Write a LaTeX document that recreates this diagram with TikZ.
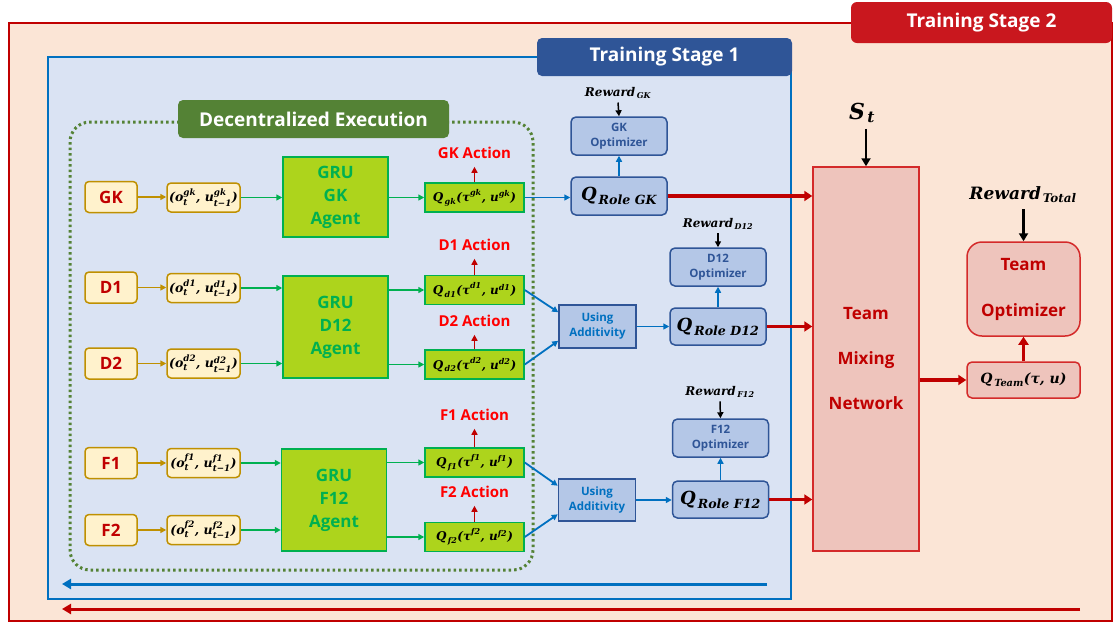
\documentclass[tikz,border=0pt]{standalone}
\usepackage{amsmath}
\usepackage[no-math]{fontspec}
\newfontfamily\lbl{Open Sans}
\newfontfamily\mtf{DejaVu Serif}
\newcommand\bt[1]{\text{\mtf\bfseries\itshape #1}}
\usetikzlibrary{arrows.meta}
\definecolor{peach}{HTML}{FBE5D6}
\definecolor{dred}{HTML}{C00000}
\definecolor{lbred}{HTML}{C9171E}
\definecolor{lblue}{HTML}{DAE3F3}
\definecolor{mblue}{HTML}{0070C0}
\definecolor{nblue}{HTML}{2F5597}
\definecolor{bfill}{HTML}{B4C7E7}
\definecolor{dgreen}{HTML}{548235}
\definecolor{cream}{HTML}{FFF2CC}
\definecolor{gold}{HTML}{BF9000}
\definecolor{lime}{HTML}{ADD41C}
\definecolor{ggreen}{HTML}{00B050}
\definecolor{pinkf}{HTML}{EEC4BC}
\definecolor{mred}{HTML}{D42A2A}
\definecolor{actred}{HTML}{FF0000}
\tikzset{
  lblfont/.style={font={\lbl\bfseries\fontsize{#1}{#1}\selectfont}},
  mathfont/.style={font={\fontsize{#1}{#1}\selectfont}},
  agentbox/.style={draw=gold, fill=cream, line width=1.5pt, rounded corners=4pt, minimum width=52pt, minimum height=31pt, inner sep=0pt, text=dred, lblfont=17},
  obsbox/.style={draw=gold, fill=cream, line width=1.5pt, rounded corners=4pt, minimum width=73pt, minimum height=29pt, inner sep=0pt, mathfont=12.5},
  grubox/.style={draw=ggreen, fill=lime, line width=1.5pt, minimum width=105pt, inner sep=0pt, text=ggreen, align=center, font={\lbl\bfseries\fontsize{17}{23}\selectfont}},
  qbox/.style={draw=ggreen, fill=lime, line width=1.5pt, minimum width=99pt, minimum height=29pt, inner sep=0pt, mathfont=12},
  act/.style={text=actred, lblfont=15, inner sep=0pt, outer sep=8pt},
  optbox/.style={draw=nblue, fill=bfill, line width=1.5pt, rounded corners=5pt, minimum width=96pt, minimum height=38pt, inner sep=0pt, text=nblue, align=center, font={\lbl\bfseries\fontsize{11.5}{15}\selectfont}},
  rolebox/.style={draw=nblue, fill=bfill, line width=1.5pt, rounded corners=5pt, minimum width=96pt, minimum height=37pt, inner sep=0pt, mathfont=18},
  uabox/.style={draw=nblue, fill=bfill, line width=1.5pt, minimum width=77pt, minimum height=43pt, inner sep=0pt, text=mblue, align=center, font={\lbl\bfseries\fontsize{11.5}{15}\selectfont}},
  rwd/.style={mathfont=12, inner sep=0pt, outer sep=4pt},
  redbox/.style={draw=mred, fill=pinkf, line width=1.5pt, inner sep=0pt, text=dred, align=center},
  goldarr/.style={draw=gold, line width=1.8pt, -{Triangle[length=6pt,width=6pt]}},
  greenarr/.style={draw=ggreen, line width=1.8pt, -{Triangle[length=6pt,width=6pt]}},
  bluearr/.style={draw=mblue, line width=1.8pt, -{Triangle[length=6pt,width=6pt]}},
  actarr/.style={draw=dred, line width=1.8pt, -{Triangle[length=6pt,width=6pt]}},
  blackarr/.style={draw=black, line width=1.5pt, -{Triangle[length=6pt,width=6pt]}},
  bigblack/.style={draw=black, line width=2.5pt, -{Triangle[length=8pt,width=9pt]}},
  redarr/.style={draw=dred, line width=3.5pt, -{Triangle[length=8pt,width=10pt]}},
  longblue/.style={draw=mblue, line width=3pt, -{Triangle[length=9pt,width=10pt]}},
  longred/.style={draw=dred, line width=3pt, -{Triangle[length=9pt,width=10pt]}},
}
\begin{document}
\begin{tikzpicture}[x=1pt,y=-1pt]
\useasboundingbox (0,0) rectangle (1120,622);
% stage 2
\node[draw=dred, fill=peach, line width=1.5pt, minimum width=1103pt, minimum height=598pt, inner sep=0pt, anchor=north west] (s2) at (8,22) {};
\node[fill=lbred, rounded corners=6pt, minimum width=261pt, minimum height=41pt, inner sep=0pt, text=white, lblfont=19] (s2lbl) at (981.5,22.5) {Training Stage 2};
% stage 1
\node[draw=mblue, fill=lblue, line width=1.5pt, minimum width=743pt, minimum height=542pt, inner sep=0pt, anchor=north west] (s1) at (47,56) {};
\node[fill=nblue, rounded corners=5pt, minimum width=255pt, minimum height=38pt, inner sep=0pt, text=white, lblfont=19] (s1lbl) at (664.5,57) {Training Stage 1};
% decentralized execution
\draw[dgreen, line width=3pt, dash pattern=on 2.5pt off 3pt, rounded corners=20pt] (70,122) rectangle (533,570);
\node[fill=dgreen, rounded corners=5pt, minimum width=271pt, minimum height=38pt, inner sep=0pt, text=white, lblfont=19] (delbl) at (313.5,119) {Decentralized Execution};

% GK row
\node[agentbox] (gk) at (111,197) {GK};
\node[obsbox] (ogk) at (203.5,197.5) {$\bt{(o}_{\bt{t}}^{\bt{gk}}\bt{, u}_{\bt{t−1}}^{\bt{gk}}\bt{)}$};
\node[grubox, minimum height=80pt] (grugk) at (335.5,197) {GRU\\GK\\Agent};
\node[qbox] (qgk) at (474.5,197.5) {$\bt{Q}_{\,\bt{gk}}\bt{(τ}^{\bt{gk}}\bt{, u}^{\bt{gk}}\bt{)}$};
\node[act] (agk) at (474.5,153) {GK Action};
% D rows
\node[agentbox] (d1) at (111,287.5) {D1};
\node[agentbox] (d2) at (111,363.5) {D2};
\node[obsbox] (od1) at (203.5,288) {$\bt{(o}_{\bt{t}}^{\bt{d1}}\bt{, u}_{\bt{t−1}}^{\bt{d1}}\bt{)}$};
\node[obsbox] (od2) at (203.5,363.5) {$\bt{(o}_{\bt{t}}^{\bt{d2}}\bt{, u}_{\bt{t−1}}^{\bt{d2}}\bt{)}$};
\node[grubox, minimum height=102pt] (grud) at (335.5,327) {GRU\\D12\\Agent};
\node[qbox] (qd1) at (474.5,290) {$\bt{Q}_{\,\bt{d1}}\bt{(τ}^{\bt{d1}}\bt{, u}^{\bt{d1}}\bt{)}$};
\node[qbox] (qd2) at (474.5,364.5) {$\bt{Q}_{\,\bt{d2}}\bt{(τ}^{\bt{d2}}\bt{, u}^{\bt{d2}}\bt{)}$};
\node[act] (ad1) at (474.5,245) {D1 Action};
\node[act] (ad2) at (474.5,321) {D2 Action};
% F rows
\node[agentbox] (f1) at (111,463) {F1};
\node[agentbox] (f2) at (111,530) {F2};
\node[obsbox] (of1) at (203.5,463) {$\bt{(o}_{\bt{t}}^{\bt{f1}}\bt{, u}_{\bt{t−1}}^{\bt{f1}}\bt{)}$};
\node[obsbox] (of2) at (203.5,530) {$\bt{(o}_{\bt{t}}^{\bt{f2}}\bt{, u}_{\bt{t−1}}^{\bt{f2}}\bt{)}$};
\node[grubox, minimum height=102pt] (gruf) at (334,500) {GRU\\F12\\Agent};
\node[qbox] (qf1) at (474.5,462.5) {$\bt{Q}_{\,\bt{f1}}\bt{(τ}^{\bt{f1}}\bt{, u}^{\bt{f1}}\bt{)}$};
\node[qbox] (qf2) at (474.5,537) {$\bt{Q}_{\,\bt{f2}}\bt{(τ}^{\bt{f2}}\bt{, u}^{\bt{f2}}\bt{)}$};
\node[act] (af1) at (474.5,415) {F1 Action};
\node[act] (af2) at (474.5,492) {F2 Action};

% blue section
\node[optbox] (optgk) at (619,136) {GK\\Optimizer};
\node[rolebox, minimum height=38pt] (rolegk) at (619,196) {$\bt{Q}_{\,\bt{Role GK}}$};
\node[rwd] (rgk) at (618,93) {$\bt{Reward}_{\,\bt{GK}}$};
\node[optbox] (optd12) at (718,267) {D12\\Optimizer};
\node[rolebox] (roled12) at (718,326.5) {$\bt{Q}_{\,\bt{Role D12}}$};
\node[uabox] (ua1) at (597.5,326.5) {Using\\Additivity};
\node[rwd] (rd12) at (718,224) {$\bt{Reward}_{\,\bt{D12}}$};
\node[optbox] (optf12) at (720.5,438) {F12\\Optimizer};
\node[rolebox] (rolef12) at (720.5,499.5) {$\bt{Q}_{\,\bt{Role F12}}$};
\node[uabox, minimum height=42pt] (ua2) at (597,500) {Using\\Additivity};
\node[rwd] (rf12) at (720,392) {$\bt{Reward}_{\,\bt{F12}}$};

% stage 2 parts
\node[redbox, minimum width=106pt, minimum height=384pt, font={\lbl\bfseries\fontsize{17}{45}\selectfont}] (mix) at (866,359) {Team\\Mixing\\Network};
\node[mathfont=22, inner sep=0pt, outer sep=6pt] (st) at (862,113) {$\bt{S}_{\,\bt{t}}$};
\node[mathfont=17, inner sep=0pt, outer sep=6pt] (rtot) at (1023,195) {$\bt{Reward}_{\,\bt{Total}}$};
\node[redbox, rounded corners=15pt, minimum width=113pt, minimum height=94pt, font={\lbl\bfseries\fontsize{17}{46}\selectfont}] (topt) at (1023.5,289) {Team\\Optimizer};
\node[redbox, rounded corners=5pt, minimum width=113pt, minimum height=36pt, text=black, mathfont=14] (qteam) at (1023.5,380) {$\bt{Q}_{\,\bt{Team}}\bt{(τ, u)}$};

% arrows: inputs
\foreach \a/\o in {gk/ogk,d1/od1,d2/od2,f1/of1,f2/of2}{
  \draw[goldarr] (\a.east) -- (\a.east -| \o.west);
}
\draw[greenarr] (ogk.east) -- (ogk.east -| grugk.west);
\draw[greenarr] (od1.east) -- (od1.east -| grud.west);
\draw[greenarr] (od2.east) -- (od2.east -| grud.west);
\draw[greenarr] (of1.east) -- (of1.east -| gruf.west);
\draw[greenarr] (of2.east) -- (of2.east -| gruf.west);
\draw[greenarr] (qgk.west -| grugk.east) -- (qgk.west);
\draw[greenarr] (qd1.west -| grud.east) -- (qd1.west);
\draw[greenarr] (qd2.west -| grud.east) -- (qd2.west);
\draw[greenarr] (qf1.west -| gruf.east) -- (qf1.west);
\draw[greenarr] (qf2.west -| gruf.east) -- (qf2.west);
% actions
\foreach \q/\a in {qgk/agk,qd1/ad1,qd2/ad2,qf1/af1,qf2/af2}{
  \draw[actarr] (\q.north) -- (\a.south);
}
% blue
\draw[bluearr] (qgk.east) -- (qgk.east -| rolegk.west);
\draw[bluearr] (qd1.east) -- (ua1.160);
\draw[bluearr] (qd2.east) -- (ua1.200);
\draw[bluearr] (qf1.east) -- (ua2.160);
\draw[bluearr] (qf2.east) -- (ua2.200);
\draw[bluearr] (ua1.east) -- (ua1.east -| roled12.west);
\draw[bluearr] (ua2.east) -- (ua2.east -| rolef12.west);
\draw[bluearr] (rolegk.north) -- (optgk.south);
\draw[bluearr] (roled12.north) -- (optd12.south);
\draw[bluearr] (rolef12.north) -- (optf12.south);
\draw[blackarr] (rgk.south) -- (optgk.north);
\draw[blackarr] (rd12.south) -- (optd12.north);
\draw[blackarr] (rf12.south) -- (optf12.north);
% red
\draw[redarr] (rolegk.east) -- (rolegk.east -| mix.west);
\draw[redarr] (roled12.east) -- (roled12.east -| mix.west);
\draw[redarr] (rolef12.east) -- (rolef12.east -| mix.west);
\draw[redarr] (qteam.west -| mix.east) -- (qteam.west);
\draw[redarr] (qteam.north) -- (topt.south);
\draw[bigblack] (st.south -| mix.north) -- (mix.north);
\draw[bigblack] (rtot.south -| topt.north) -- (topt.north);
% bottom feedback
\coordinate (b1s) at (767,584);
\coordinate (b1e) at (62,584);
\coordinate (b2s) at (1080,609);
\coordinate (b2e) at (62,609);
\draw[longblue] (b1s) -- (b1e);
\draw[longred] (b2s) -- (b2e);
\end{tikzpicture}
\end{document}
